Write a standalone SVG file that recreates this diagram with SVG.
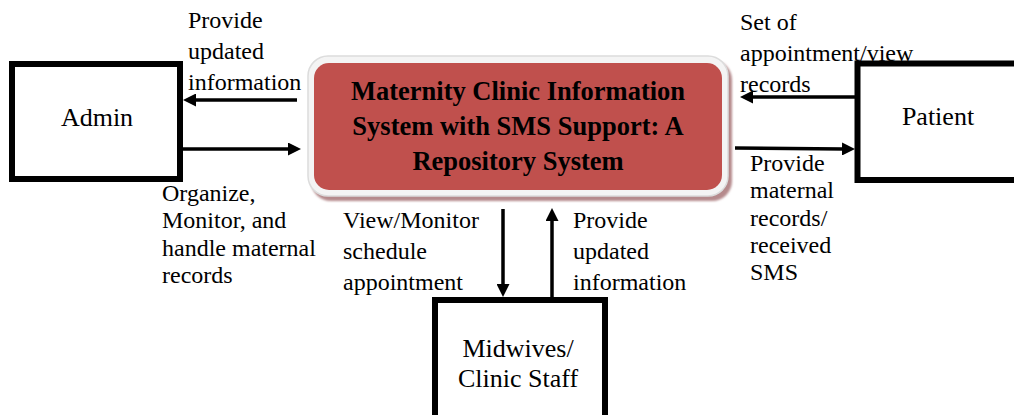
<svg xmlns="http://www.w3.org/2000/svg" width="1014" height="415" viewBox="0 0 1014 415">
  <style>
    .entity { fill: #ffffff; stroke: #000000; stroke-width: 6; }
    .entity-label { font-family: "Liberation Serif", "Times New Roman", serif; font-size: 26px; fill: #000000; text-anchor: middle; }
    .flow { fill: none; stroke: #000000; stroke-width: 3.5; marker-end: url(#head); }
    .flow-label { font-family: "Liberation Serif", "Times New Roman", serif; font-size: 24px; fill: #000000; }
    .system-label { font-family: "Liberation Serif", "Times New Roman", serif; font-size: 26.5px; font-weight: bold; fill: #000000; text-anchor: middle; }
  </style>
  <defs>
    <marker id="head" viewBox="0 0 13 13" refX="1" refY="6.5" markerWidth="13" markerHeight="13" markerUnits="userSpaceOnUse" orient="auto">
      <path d="M0,0 L13,6.5 L0,13 z" fill="#000000"/>
    </marker>
    <filter id="soft" x="-5%" y="-10%" width="110%" height="120%">
      <feGaussianBlur stdDeviation="1.2"/>
    </filter>
  </defs>

  <rect width="1014" height="415" fill="#ffffff"/>

  <!-- central process: the repository system -->
  <g id="system">
    <rect x="311" y="60" width="421" height="141" rx="20" fill="#B58A8C" filter="url(#soft)"/>
    <rect x="308" y="56" width="420" height="140" rx="20" fill="#F4F4F4" stroke="#DCDCDC" stroke-width="1.5"/>
    <rect x="314" y="63" width="408" height="127" rx="15" fill="#C0504D"/>
    <text class="system-label" x="518" y="100">Maternity Clinic Information</text>
    <text class="system-label" x="518" y="135">System with SMS Support: A</text>
    <text class="system-label" x="518" y="170">Repository System</text>
  </g>

  <!-- external entities -->
  <g id="admin">
    <rect class="entity" x="12" y="64" width="168" height="115"/>
    <text class="entity-label" x="97" y="126">Admin</text>
  </g>

  <g id="patient">
    <rect class="entity" x="857.5" y="63.5" width="170" height="116.5"/>
    <text class="entity-label" x="938" y="125">Patient</text>
  </g>

  <g id="midwives">
    <rect class="entity" x="435" y="300" width="170" height="125"/>
    <text class="entity-label" x="518" y="357">Midwives/</text>
    <text class="entity-label" x="518" y="387">Clinic Staff</text>
  </g>

  <!-- data flows -->
  <g id="connectors">
    <path class="flow" d="M297,100 L195,100"/>
    <path class="flow" d="M183,149 L289,149"/>
    <path class="flow" d="M855,97 L752,97"/>
    <path class="flow" d="M735,148 L843,149"/>
    <path class="flow" d="M503,209 L503,285"/>
    <path class="flow" d="M552,297 L552,220"/>
  </g>

  <!-- flow labels -->
  <g id="flow-labels">
    <text class="flow-label" x="188" y="28">Provide</text>
    <text class="flow-label" x="188" y="59">updated</text>
    <text class="flow-label" x="188" y="90">information</text>

    <text class="flow-label" x="162" y="201">Organize,</text>
    <text class="flow-label" x="162" y="228">Monitor, and</text>
    <text class="flow-label" x="162" y="256">handle maternal</text>
    <text class="flow-label" x="162" y="283">records</text>

    <text class="flow-label" x="740" y="30">Set of</text>
    <text class="flow-label" x="740" y="61">appointment/view</text>
    <text class="flow-label" x="740" y="92">records</text>

    <text class="flow-label" x="750" y="171">Provide</text>
    <text class="flow-label" x="750" y="198">maternal</text>
    <text class="flow-label" x="750" y="226">records/</text>
    <text class="flow-label" x="750" y="253">received</text>
    <text class="flow-label" x="750" y="280">SMS</text>

    <text class="flow-label" x="343" y="228">View/Monitor</text>
    <text class="flow-label" x="343" y="259">schedule</text>
    <text class="flow-label" x="343" y="290">appointment</text>

    <text class="flow-label" x="573" y="228">Provide</text>
    <text class="flow-label" x="573" y="259">updated</text>
    <text class="flow-label" x="573" y="290">information</text>
  </g>
</svg>
